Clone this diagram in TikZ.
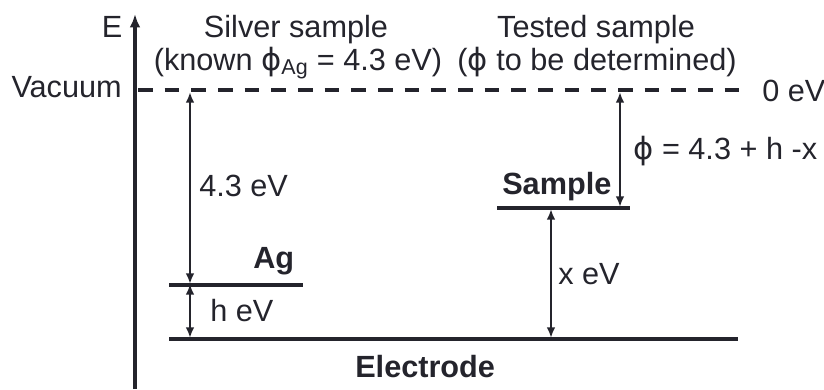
\documentclass[tikz,border=0pt]{standalone}
\usepackage{fontspec}
\setmainfont{Liberation Sans}
\newfontfamily\phifont{DejaVu Sans}
\usepackage{xcolor}
\usetikzlibrary{positioning, arrows.meta}
\definecolor{ink}{HTML}{24242C}
\newcommand{\wf}{{\phifont\symbol{"03D5}}}

\begin{document}
\begin{tikzpicture}[
  x=0.75pt, y=-0.75pt,
  font=\fontsize{23}{27}\selectfont, text=ink,
  level/.style={draw=ink, line width=2.6pt},
  energygap/.style={{Latex[length=8pt,width=6.5pt]}-{Latex[length=8pt,width=6.5pt]},
              draw=ink, line width=1.7pt},
  tag/.style={inner sep=0pt, anchor=base west},
  heading/.style={inner sep=0pt, anchor=base},
  levelname/.style={tag, font=\fontsize{23}{27}\selectfont\bfseries},
]
\useasboundingbox (0,0) rectangle (824,389);

% energy axis
\coordinate (axisfoot) at (135,389);
\coordinate (axistop) at (135,14);
\draw[ink, line width=3pt, -{Latex[length=10pt,width=8pt]}] (axisfoot) -- (axistop);
\node[heading] (elabel) at (112,37) {E};
\node[inner sep=0pt, anchor=base east] (vaclabel) at (122,97) {Vacuum};

% headings
\node[heading] (silver) at (296,37) {Silver sample};
\node[heading] (known) at (298,70) {(known \wf\textsubscript{Ag} = 4.3 eV)};
\node[heading] (tested) at (596,37) {Tested sample};
\node[heading] (unknown) at (597,70) {(\wf\ to be determined)};

% levels
\coordinate (vacL) at (138,90);
\coordinate (vacR) at (743,90);
\draw[ink, line width=2.7pt, dash pattern=on 11pt off 9pt] (vacL) -- (vacR);
\node[tag] (zero) at (762,101) {0 eV};

\coordinate (agL) at (169,285);
\coordinate (agR) at (303,285);
\draw[level] (agL) -- (agR);
\node[levelname] (ag) at (253,268) {Ag};

\coordinate (smpL) at (497,208);
\coordinate (smpR) at (630,208);
\draw[level] (smpL) -- (smpR);
\node[levelname] (smp) at (502,194) {Sample};

\coordinate (elL) at (169,339);
\coordinate (elR) at (738,339);
\draw[level] (elL) -- (elR);
\node[levelname] (electrode) at (355,377) {Electrode};

% energy gaps
\coordinate (agtop) at (190,92);
\coordinate (agmid) at (190,284);
\coordinate (agbot) at (190,338);
\draw[energygap] (agtop) -- (agmid);
\draw[energygap] (agmid) -- (agbot);
\node[tag] (wag) at (199,196) {4.3 eV};
\node[tag] (heV) at (210,321) {h eV};

\coordinate (smptop) at (620,92);
\coordinate (smpmid) at (620,207);
\draw[energygap] (smptop) -- (smpmid);
\node[tag] (wsmp) at (633,159) {\wf\ = 4.3 + h -x};

\coordinate (xtop) at (551,209);
\coordinate (xbot) at (551,338);
\draw[energygap] (xtop) -- (xbot);
\node[tag] (xeV) at (558,284) {x eV};
\end{tikzpicture}
\end{document}
